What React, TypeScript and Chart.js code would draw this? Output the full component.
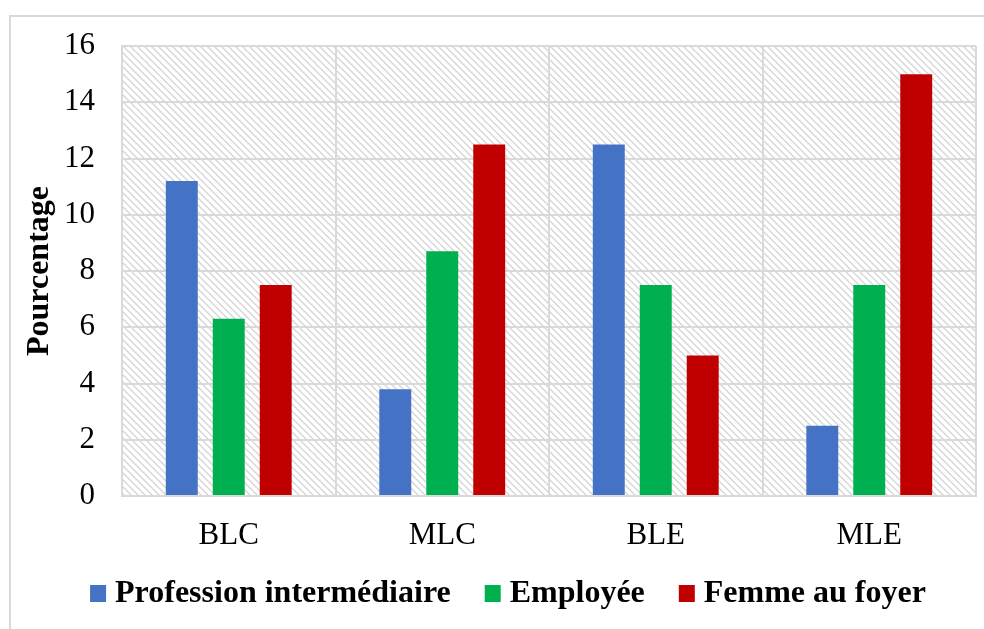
import { useEffect, useRef } from "react";
import { Chart, registerables } from "chart.js";
Chart.register(...registerables);

const categories = ["BLC", "MLC", "BLE", "MLE"];
const seriesNames = ["Profession intermédiaire", "Employée", "Femme au foyer"];
const professionIntermediaire = [11.2, 3.8, 12.5, 2.5];
const employee = [6.3, 8.7, 7.5, 7.5];
const femmeAuFoyer = [7.5, 12.5, 5.0, 15.0];
const seriesColors = ["#4472C4", "#00B050", "#C00000"];
const yMin = 0;
const yMax = 16;
const yStep = 2;
const yTitle = "Pourcentage";

const FONT = '"Liberation Serif", "Times New Roman", serif';
const GRID = "#d9d9d9";

function makeHatch(ctx: CanvasRenderingContext2D) {
  const s = 7;
  const c = document.createElement("canvas");
  c.width = s;
  c.height = s;
  const p = c.getContext("2d")!;
  p.strokeStyle = "#d4d4d4";
  p.lineWidth = 1.3;
  p.beginPath();
  p.moveTo(-1, -1);
  p.lineTo(s + 1, s + 1);
  p.moveTo(-1, s - 1);
  p.lineTo(1, s + 1);
  p.moveTo(s - 1, -1);
  p.lineTo(s + 1, 1);
  p.stroke();
  return ctx.createPattern(c, "repeat")!;
}

const backgroundPlugin = {
  id: "bgHatch",
  beforeDraw(chart: any) {
    const { ctx, chartArea } = chart;
    ctx.save();
    ctx.strokeStyle = GRID;
    ctx.lineWidth = 2;
    ctx.strokeRect(10, 16, 1100, 1100);
    ctx.fillStyle = makeHatch(ctx);
    ctx.fillRect(chartArea.left, chartArea.top, chartArea.right - chartArea.left, chartArea.bottom - chartArea.top);
    ctx.restore();
  },
};

const legendPlugin = {
  id: "customLegend",
  afterDraw(chart: any) {
    const ctx = chart.ctx as CanvasRenderingContext2D;
    ctx.save();
    ctx.font = `bold 32px ${FONT}`;
    const box = 16;
    const gapBoxText = 9;
    const gapItems = 34;
    const items = chart.data.datasets.map((d: any) => ({
      label: d.label,
      color: d.backgroundColor,
      w: ctx.measureText(d.label).width,
    }));
    const total =
      items.reduce((a: number, it: any) => a + box + gapBoxText + it.w, 0) + gapItems * (items.length - 1);
    let x = 508 - total / 2;
    const y = 593;
    ctx.textBaseline = "middle";
    ctx.textAlign = "left";
    for (const it of items) {
      ctx.fillStyle = it.color;
      ctx.fillRect(x, y - box / 2, box, box + 1);
      x += box + gapBoxText;
      ctx.fillStyle = "#000";
      ctx.fillText(it.label, x, y + 1);
      x += it.w + gapItems;
    }
    ctx.restore();
  },
};

export default function App() {
  const ref = useRef<HTMLCanvasElement | null>(null);
  useEffect(() => {
    if (!ref.current) return;
    const values = [professionIntermediaire, employee, femmeAuFoyer];
    const chart = new Chart(ref.current, {
      type: "bar",
      data: {
        labels: categories,
        datasets: seriesNames.map((name, i) => ({
          label: name,
          data: values[i],
          backgroundColor: seriesColors[i],
          borderWidth: 0,
          barPercentage: 0.68,
          categoryPercentage: 0.66,
        })),
      },
      options: {
        responsive: false,
        animation: false,
        layout: { padding: { top: 46, right: 8, left: 0, bottom: 0 } },
        plugins: {
          legend: { display: false },
          tooltip: { enabled: false },
        },
        scales: {
          x: {
            grid: { color: GRID, lineWidth: 2, drawTicks: false, offset: true },
            border: { color: GRID, width: 2 },
            ticks: { color: "#000", font: { family: FONT, size: 31 }, padding: 21 },
            afterFit: (s: any) => {
              s.height = 133;
            },
          },
          y: {
            min: yMin,
            max: yMax,
            grid: { color: GRID, lineWidth: 2, drawTicks: false },
            border: { color: GRID, width: 2 },
            ticks: { stepSize: yStep, color: "#000", font: { family: FONT, size: 31 }, padding: 27 },
            title: {
              display: true,
              text: yTitle,
              color: "#000",
              font: { family: FONT, size: 32, weight: "bold" },
              padding: { top: 21, bottom: 0 },
            },
            afterFit: (s: any) => {
              s.width = 122;
            },
          },
        },
      },
      plugins: [backgroundPlugin, legendPlugin],
    });
    return () => chart.destroy();
  }, []);
  return (
    <div style={{ position: "fixed", left: 0, top: 0, width: 984, height: 629, background: "#fff" }}>
      <canvas ref={ref} width={984} height={629} style={{ display: "block" }} />
    </div>
  );
}
